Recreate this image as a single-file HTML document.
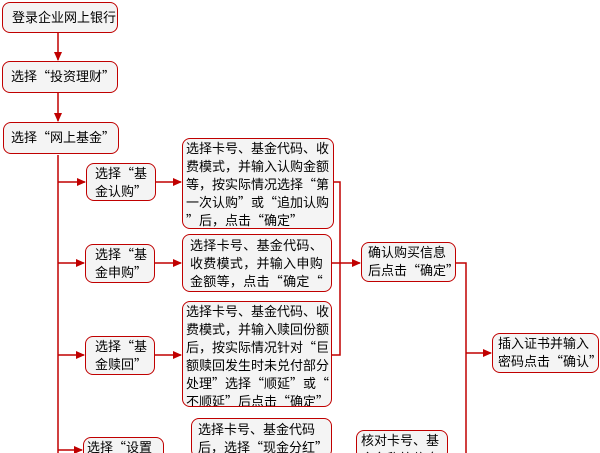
<!DOCTYPE html>
<html><head><meta charset="utf-8"><style>
html{margin:0;width:600px;height:453px;overflow:hidden}
body{margin:0;width:600px;height:453px;background:#fff;position:relative;overflow:hidden;font-family:"Noto Sans CJK SC","WenQuanYi Zen Hei",sans-serif;font-size:13px;color:#000}
.b{position:absolute;box-sizing:border-box;border:1.5px solid #c00000;border-radius:8px;background:#f4f4f4;white-space:nowrap;line-height:18px;letter-spacing:0;overflow:hidden}
svg{position:absolute;left:0;top:0}
</style></head><body>
<svg width="600" height="453">
<defs><marker id="a" markerWidth="9" markerHeight="8" refX="8" refY="4" orient="auto" markerUnits="userSpaceOnUse"><path d="M0,0L9,4L0,8z" fill="#c00000"/></marker></defs>
<g stroke="#c00000" stroke-width="1.5" fill="none">
<line x1="58" y1="32" x2="58" y2="60" marker-end="url(#a)"/>
<line x1="58" y1="92" x2="58" y2="121" marker-end="url(#a)"/>
<line x1="58" y1="155" x2="58" y2="453"/>
<line x1="58" y1="182" x2="85" y2="182" marker-end="url(#a)"/>
<line x1="58" y1="263" x2="84" y2="263" marker-end="url(#a)"/>
<line x1="58" y1="355" x2="84" y2="355" marker-end="url(#a)"/>
<line x1="58" y1="450" x2="82" y2="450" marker-end="url(#a)"/>
<line x1="155" y1="182" x2="181" y2="182" marker-end="url(#a)"/>
<line x1="154" y1="263" x2="181" y2="263" marker-end="url(#a)"/>
<line x1="154" y1="355" x2="181" y2="355" marker-end="url(#a)"/>
<polyline points="333,182 340,182 340,355 331,355"/>
<line x1="331" y1="263" x2="360" y2="263" marker-end="url(#a)"/>
<polyline points="455,263 466,263 466,453"/>
<line x1="466" y1="353" x2="491" y2="353" marker-end="url(#a)"/>
</g></svg>
<div class="b" style="left:2px;top:2px;width:116px;height:31px;padding:5px 0 0 9px">登录企业网上银行</div>
<div class="b" style="left:2px;top:61px;width:116px;height:32px;padding:5px 0 0 8px">选择“投资理财”</div>
<div class="b" style="left:3px;top:122px;width:116px;height:32px;padding:5px 0 0 7px">选择“网上基金”</div>
<div class="b" style="left:86px;top:163px;width:70px;height:38px;padding:0 0 0 8px">选择“基<br>金认购”</div>
<div class="b" style="left:85px;top:244px;width:70px;height:39px;padding:0 0 0 9px">选择“基<br>金申购”</div>
<div class="b" style="left:85px;top:336px;width:70px;height:39px;padding:0 0 0 9px">选择“基<br>金赎回”</div>
<div class="b" style="left:83px;top:437px;width:81px;height:30px;padding:0 0 0 3px">选择“设置</div>
<div class="b" style="left:182px;top:138px;width:152px;height:91px;padding:0 0 0 3px">选择卡号、基金代码、收<br>费模式，并输入认购金额<br>等，按实际情况选择“第<br>一次认购”或“追加认购<br>”后，点击“确定”</div>
<div class="b" style="left:182px;top:234px;width:150px;height:58px;padding:1px 0 0 7px;letter-spacing:0.3px">选择卡号、基金代码、<br>收费模式，并输入申购<br>金额等，点击“确定“</div>
<div class="b" style="left:182px;top:301px;width:150px;height:106px;padding:0 0 0 3px">选择卡号、基金代码、收<br>费模式，并输入赎回份额<br>后，按实际情况针对“巨<br>额赎回发生时未兑付部分<br>处理”选择“顺延”或“<br>不顺延”后点击“确定”</div>
<div class="b" style="left:191px;top:418px;width:141px;height:40px;padding:1px 0 0 6px">选择卡号、基金代码<br>后，选择“现金分红”</div>
<div class="b" style="left:361px;top:242px;width:95px;height:40px;padding:0 0 0 6px">确认购买信息<br>后点击“确定”</div>
<div class="b" style="left:356px;top:430px;width:92px;height:30px;padding:0 0 0 4px">核对卡号、基<br>金名称等信息</div>
<div class="b" style="left:492px;top:333px;width:107px;height:40px;padding:0 0 0 5px">插入证书并输入<br>密码点击“确认”</div>
</body></html>
